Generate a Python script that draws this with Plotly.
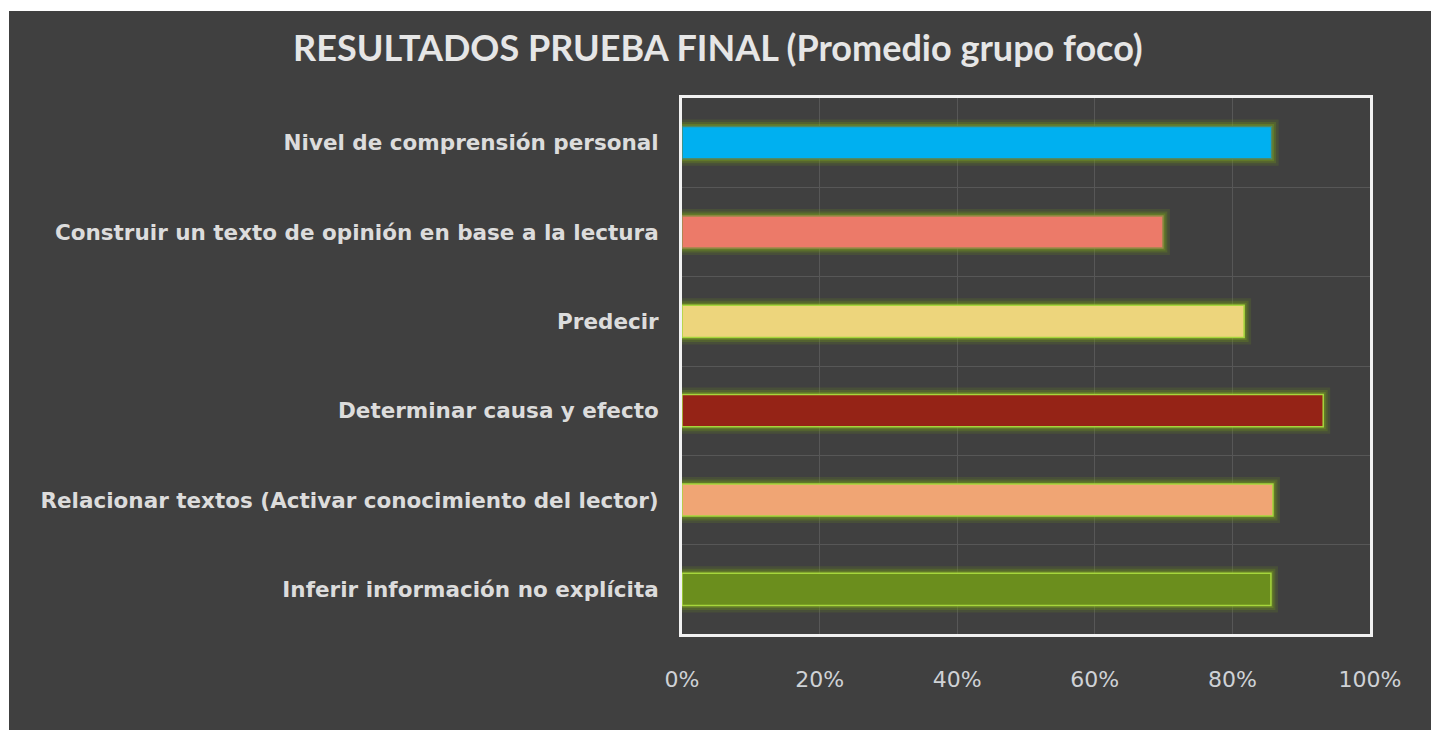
import plotly.graph_objects as go

categories = [
    "Nivel de comprensión personal",
    "Construir un texto de opinión en base a la lectura",
    "Predecir",
    "Determinar causa y efecto",
    "Relacionar textos (Activar conocimiento del lector)",
    "Inferir información no explícita",
]
values = [0.857, 0.699, 0.817, 0.932, 0.859, 0.856]
bar_colors = ["#00b0f0", "#ec7a69", "#edd57c", "#952316", "#f0a574", "#6b8e1d"]
border_colors = ["#4f8a6a", "#9a8a4a", "#a6d63c", "#a6d63c", "#a6d63c", "#a6d63c"]
x_ticks = [0, 0.2, 0.4, 0.6, 0.8, 1.0]
x_tick_labels = ["0%", "20%", "40%", "60%", "80%", "100%"]
title_text = "RESULTADOS PRUEBA FINAL (Promedio grupo foco)"

n = len(categories)
ypos = list(range(n))[::-1]  # first category at top

fig = go.Figure()
# glow layers (outer soft, inner stronger)
for lw, col in [(14, "rgba(110,150,25,0.18)"), (9, "rgba(115,155,25,0.25)"), (5, "rgba(125,165,30,0.35)")]:
    fig.add_trace(go.Bar(
        x=values, y=ypos, orientation="h", width=0.36,
        marker=dict(color=bar_colors, line=dict(color=col, width=lw)),
        hoverinfo="skip", showlegend=False,
    ))
# main bars
fig.add_trace(go.Bar(
    x=values, y=ypos, orientation="h", width=0.36,
    marker=dict(color=bar_colors, line=dict(color=border_colors, width=1.5)),
    showlegend=False,
))

W, H = 1422, 719
fig.update_layout(
    width=W, height=H,
    barmode="overlay",
    paper_bgcolor="#404040",
    plot_bgcolor="#404040",
    margin=dict(l=673, r=61, t=87, b=96),
    title=dict(
        text=title_text,
        x=0.4985, xanchor="center", xref="container",
        y=1 - 37 / H, yanchor="middle", yref="container",
        font=dict(family="Lato", size=36, color="#e6e6e6", weight="bold"),
    ),
    xaxis=dict(
        range=[0, 1], tickvals=x_ticks, ticktext=x_tick_labels,
        showgrid=True, gridcolor="#575757", gridwidth=1,
        showline=True, linecolor="#f2f2f2", linewidth=3, mirror=True,
        zeroline=False, ticks="", ticklabelstandoff=24,
        tickfont=dict(family="DejaVu Sans", size=22, color="#cfd2d6"),
    ),
    yaxis=dict(
        range=[-0.5, n - 0.5], tickvals=ypos, ticktext=categories,
        showgrid=False, zeroline=False,
        showline=True, linecolor="#f2f2f2", linewidth=3, mirror=True,
        ticks="", ticklabelstandoff=16,
        tickfont=dict(family="DejaVu Sans", size=21.5, color="#dcdcdc", weight="bold"),
        minor=dict(tickvals=[i + 0.5 for i in range(n - 1)], showgrid=True,
                   gridcolor="#575757", gridwidth=1, ticks=""),
    ),
)

fig.write_html(
    "out.html",
    post_script="document.body.style.margin='11px 0 0 9px';document.body.style.overflow='hidden';document.body.style.background='#ffffff';",
)
